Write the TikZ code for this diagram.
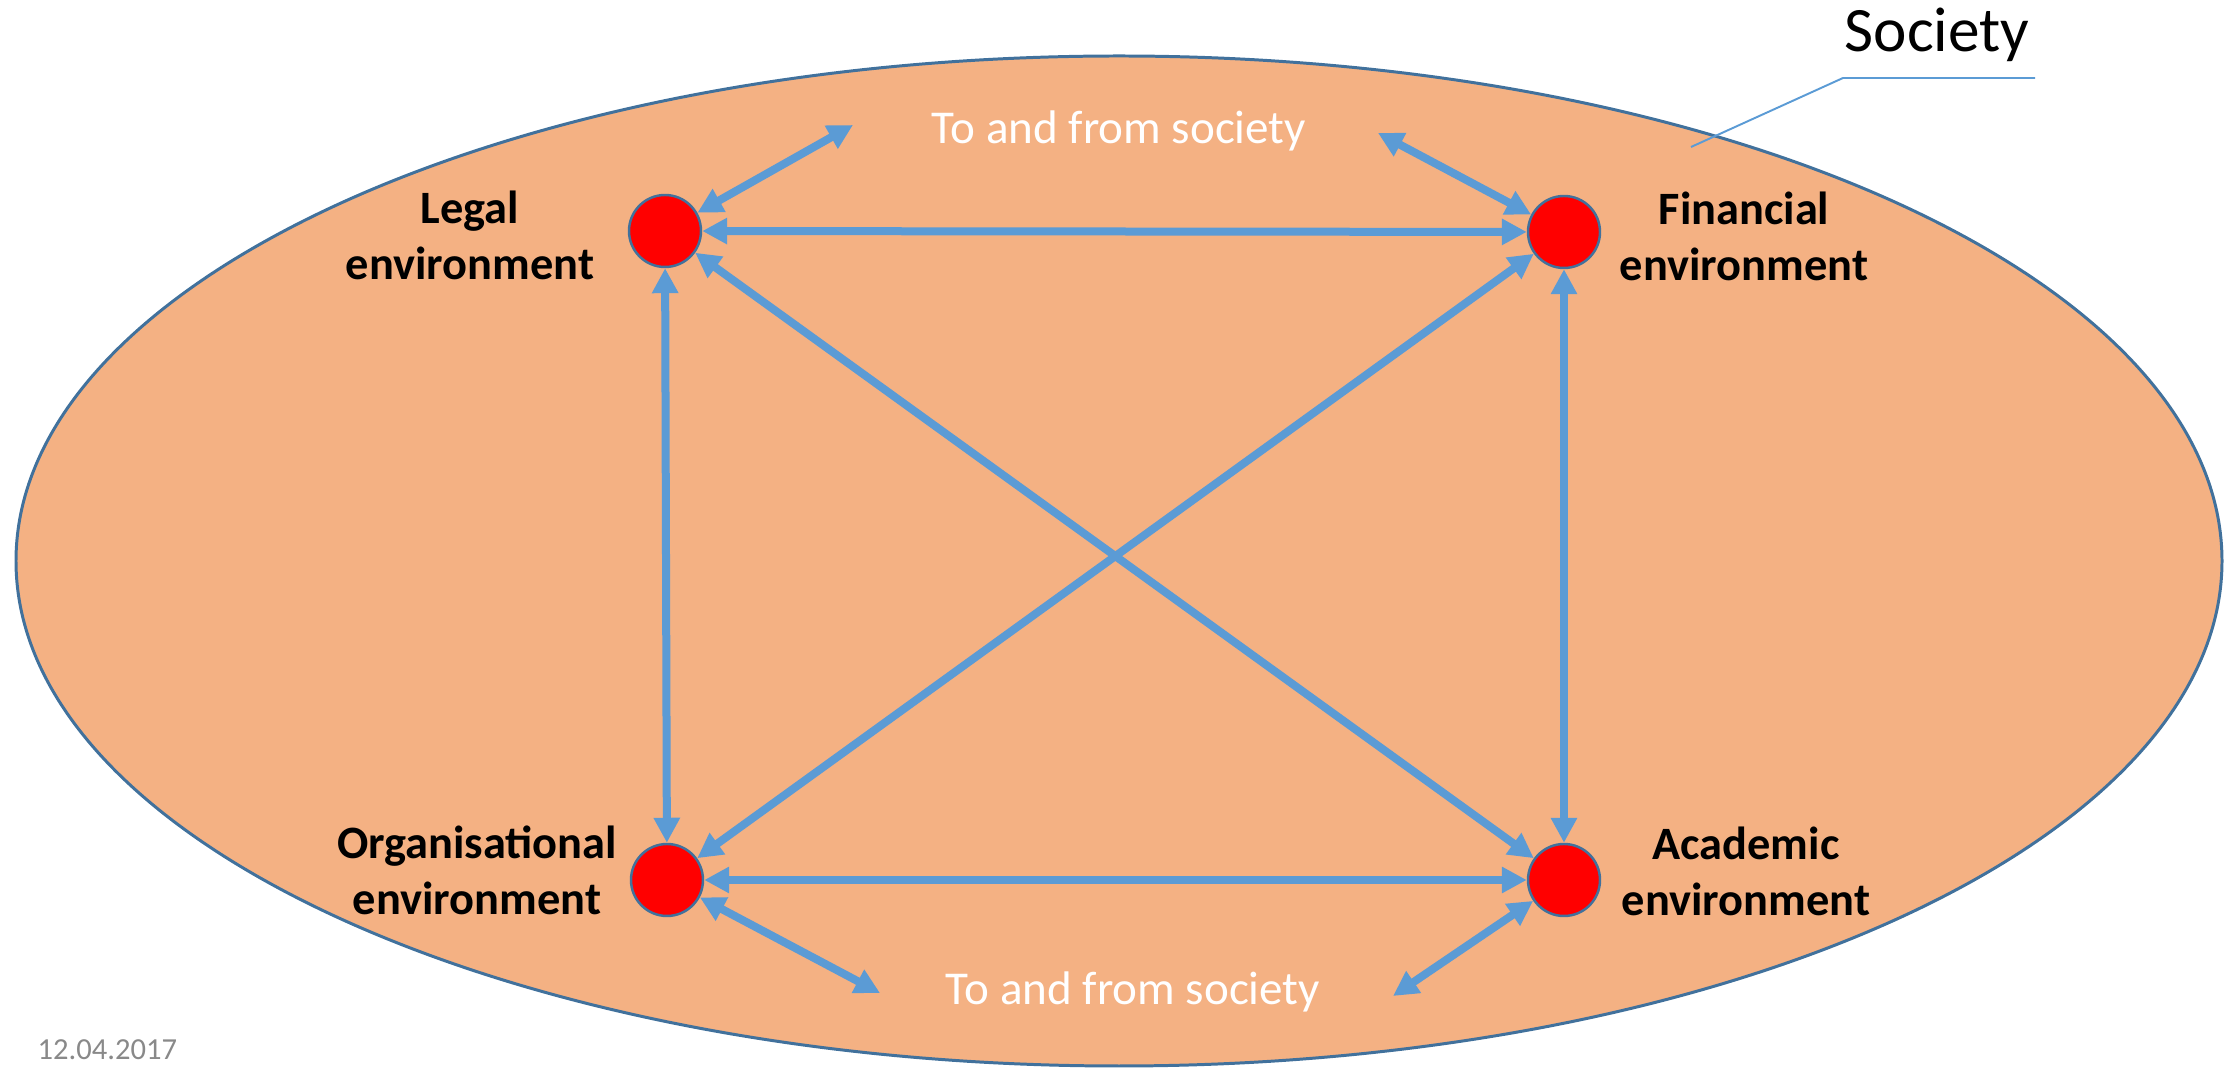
\documentclass[tikz,border=0pt]{standalone}
\usepackage{fontspec}
\setmainfont{Carlito}
\usepackage{xcolor}
\usepackage{tikz}
\usetikzlibrary{arrows.meta,positioning}

\definecolor{societyfill}{HTML}{F4B183}
\definecolor{edgeblue}{HTML}{41719C}
\definecolor{linkblue}{HTML}{5B9BD5}
\definecolor{dategray}{HTML}{898989}

\begin{document}
\begin{tikzpicture}[
  hub/.style={circle,draw=edgeblue,line width=0.7pt,fill=red,minimum size=0.72cm,inner sep=0pt},
  tag/.style={align=center,font=\fontsize{13.2}{15.9}\selectfont\bfseries},
  flow/.style={font=\fontsize{13.4}{16}\selectfont,text=white,anchor=base},
  link/.style={<->,>={Triangle[length=0.25cm,width=0.25cm]},draw=linkblue,line width=0.08cm},
  callout/.style={draw=linkblue,line width=0.55pt},
]
  \useasboundingbox (0,0) rectangle (22.36,-10.69);

  % society
  \draw[fill=societyfill,draw=edgeblue,line width=0.85pt] (11.19,-5.61) ellipse [x radius=11.03cm, y radius=5.05cm];

  % environments
  \node[hub] (legal) at (6.65,-2.31) {};
  \node[hub] (fin)   at (15.64,-2.32) {};
  \node[hub] (org)   at (6.67,-8.80) {};
  \node[hub] (acad)  at (15.64,-8.80) {};

  \node[tag] (legallbl) at (4.70,-2.35) {Legal\\environment};
  \node[tag] (finlbl)   at (17.44,-2.36) {Financial\\environment};
  \node[tag] (orglbl)   at (4.77,-8.70) {Organisational\\environment};
  \node[tag] (acadlbl)  at (17.46,-8.71) {Academic\\environment};

  % to and from society
  \node[flow] (toptxt) at (11.19,-1.44) {To and from society};
  \node[flow] (bottxt) at (11.33,-10.05) {To and from society};
  \coordinate (s1) at (8.53,-1.25);
  \coordinate (s2) at (13.78,-1.33);
  \coordinate (s3) at (8.80,-9.93);
  \coordinate (s4) at (13.93,-9.96);

  \foreach \a/\b in {legal/fin,legal/org,fin/acad,org/acad,legal/acad,fin/org,legal/s1,fin/s2,org/s3,acad/s4}
    \draw[link] (\a) -- (\b);

  % label
  \node[font=\fontsize{18}{21}\selectfont,anchor=base] (society) at (19.37,-0.52) {Society};
  \coordinate (cpin) at (16.91,-1.47);
  \coordinate (celbow) at (18.43,-0.78);
  \coordinate (cend) at (20.35,-0.78);
  \draw[callout] (cpin) -- (celbow) -- (cend);

  \node[font=\fontsize{8.7}{10}\selectfont,text=dategray,anchor=base west,inner sep=0pt] (date) at (0.37,-10.60) {12.04.2017};
\end{tikzpicture}
\end{document}
